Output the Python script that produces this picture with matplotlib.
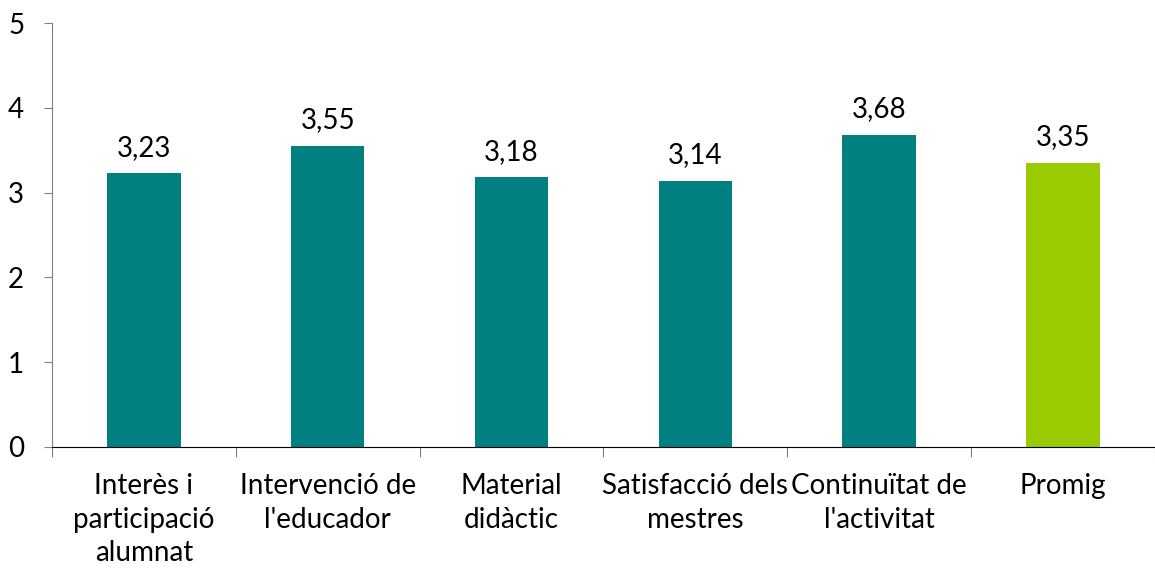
import matplotlib
matplotlib.use("Agg")
from matplotlib import pyplot as plt
import numpy as np

categories = ["Interès i\nparticipació\nalumnat", "Intervenció de\nl'educador", "Material\ndidàctic",
              "Satisfacció dels\nmestres", "Continuïtat de\nl'activitat", "Promig"]
values = [3.23, 3.55, 3.18, 3.14, 3.68, 3.35]
colors = ["#008080"] * 5 + ["#99CC00"]

plt.rcParams['font.family'] = ['Lato', 'DejaVu Sans']

fig = plt.figure(figsize=(11.55, 5.7), dpi=100)
ax = fig.add_axes([0.045, 0.2158, 0.955, 0.7438])

x = np.arange(len(categories))
bars = ax.bar(x, values, width=0.4, color=colors)

for xi, v in zip(x, values):
    ax.annotate(f"{v:.2f}".replace(".", ","), (xi, v), xytext=(0, 9), textcoords="offset points",
                ha="center", va="bottom", fontsize=20)

ax.set_xlim(-0.5, len(categories) - 0.5)
ax.set_ylim(0, 5)
ax.set_yticks(range(6))
ax.tick_params(axis="y", labelsize=20, length=6, color="#808080", pad=14)
ax.set_xticks(np.arange(-0.5, len(categories) + 0.5, 1), minor=False)
ax.set_xticklabels([])
ax.set_xticks(x, minor=True)
ax.set_xticklabels(categories, minor=True, fontsize=20, linespacing=1.35)
ax.tick_params(axis="x", which="major", length=7, color="#808080", direction="out")
ax.tick_params(axis="x", which="minor", length=0, pad=19)

for s in ["top", "right"]:
    ax.spines[s].set_visible(False)
ax.spines["left"].set_color("#808080")
ax.spines["bottom"].set_color("black")

fig.savefig("out.png", dpi=100)
